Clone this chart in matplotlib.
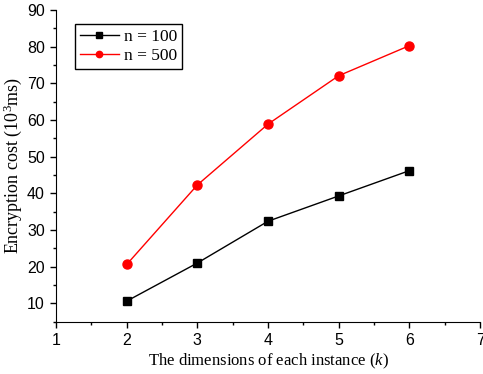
import matplotlib
matplotlib.use("Agg")
import matplotlib.pyplot as plt
from matplotlib.ticker import MultipleLocator

plt.rcParams["mathtext.fontset"] = "custom"
plt.rcParams["mathtext.rm"] = "Liberation Serif"
plt.rcParams["mathtext.it"] = "Liberation Serif:italic"

k = [2, 3, 4, 5, 6]
cost_n100 = [10.6, 21.0, 32.4, 39.3, 46.2]
cost_n500 = [20.6, 42.3, 58.9, 72.1, 80.3]

fig = plt.figure(figsize=(4.83, 3.74), dpi=100)
ax = fig.add_axes([0.116, 0.14, 0.878, 0.833])

ax.plot(k, cost_n100, color="black", marker="s", markersize=6, linewidth=1, label="n = 100")
ax.plot(k, cost_n500, color="red", marker="o", markersize=6.5, linewidth=1, label="n = 500")

ax.set_xlim(1, 7)
ax.set_ylim(5, 90)
ax.xaxis.set_major_locator(MultipleLocator(1))
ax.xaxis.set_minor_locator(MultipleLocator(0.5))
ax.yaxis.set_major_locator(MultipleLocator(10))
ax.yaxis.set_minor_locator(MultipleLocator(5))
ax.spines["top"].set_visible(False)
ax.spines["right"].set_visible(False)
ax.tick_params(which="major", direction="out", length=4, width=1, labelsize=11.5, pad=4)
ax.tick_params(which="minor", direction="out", length=2.5, width=1)
for lab in ax.get_xticklabels() + ax.get_yticklabels():
    lab.set_family("Liberation Sans")

ax.set_xlabel("The dimensions of each instance ($k$)", family="Liberation Serif", size=12, labelpad=3)
ax.set_ylabel("Encryption cost (10$^3$ms)", family="Liberation Serif", size=13, labelpad=2)

leg = ax.legend(loc="upper left", bbox_to_anchor=(0.045, 0.955), prop={"family": "Liberation Serif", "size": 12.5},
                fancybox=False, edgecolor="black", framealpha=1, handlelength=2.2, handletextpad=0.3,
                borderpad=0.3, labelspacing=0.15, borderaxespad=0, markerscale=0.7)
leg.get_frame().set_linewidth(1)

fig.savefig("out.png", dpi=100)
